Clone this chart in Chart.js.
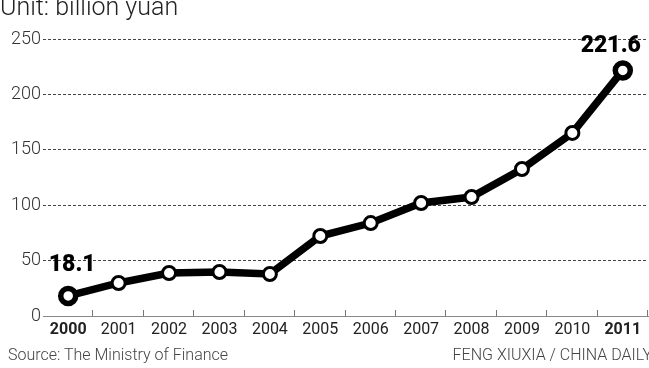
<!DOCTYPE html>
<html>
<head>
<meta charset="utf-8">
<script src="https://cdn.jsdelivr.net/npm/chart.js@4/dist/chart.umd.min.js"></script>
<style>
  html, body { margin: 0; padding: 0; background: #fff; }
  #wrap { position: relative; width: 649px; height: 368px; overflow: hidden; font-family: Roboto, sans-serif; }
  #chart { position: absolute; left: 0; top: 0; }
  .txt { position: absolute; white-space: nowrap; color: #333; font-weight: 300; }
  #unit { left: 0; top: -6.5px; font-size: 25px; line-height: 26px; color: #222; }
  #source { left: 8px; top: 344.5px; font-size: 16px; line-height: 20px; color: #444; }
  #credit { right: -3px; top: 344.5px; font-size: 16px; line-height: 20px; color: #444; }
</style>
</head>
<body>
<div id="wrap">
  <canvas id="chart" width="649" height="368"></canvas>
  <div class="txt" id="unit">Unit: billion yuan</div>
  <div class="txt" id="source">Source: The Ministry of Finance</div>
  <div class="txt" id="credit">FENG XIUXIA / CHINA DAILY</div>
</div>
<script>
const years = ['2000', '2001', '2002', '2003', '2004', '2005', '2006', '2007', '2008', '2009', '2010', '2011'];
const revenue = [18.1, 29.8, 38.8, 39.7, 37.9, 72.2, 83.9, 102.0, 107.4, 132.7, 165.2, 221.6];
const yTicks = [0, 50, 100, 150, 200, 250];

const last = years.length - 1;
const isEnd = (i) => i === 0 || i === last;

// small upward tick marks between the years
const betweenTicks = {
  id: 'betweenTicks',
  afterDraw(chart) {
    const x = chart.scales.x;
    const ctx = chart.ctx;
    const bottom = chart.chartArea.bottom;
    ctx.save();
    ctx.strokeStyle = '#777';
    ctx.lineWidth = 1;
    for (let i = 1; i <= years.length; i++) {
      const px = Math.round(x.getPixelForValue(i - 0.5)) - 0.5;
      ctx.beginPath();
      ctx.moveTo(px, bottom);
      ctx.lineTo(px, bottom - 6);
      ctx.stroke();
    }
    ctx.restore();
  }
};

// first and last value labels
const endLabels = {
  id: 'endLabels',
  afterDatasetsDraw(chart) {
    const pts = chart.getDatasetMeta(0).data;
    const ctx = chart.ctx;
    ctx.save();
    ctx.fillStyle = '#000';
    ctx.font = '900 23px Roboto';
    ctx.textBaseline = 'alphabetic';
    ctx.textAlign = 'center';
    ctx.fillText(revenue[0].toFixed(1), pts[0].x + 4, pts[0].y - 25);
    ctx.fillText(revenue[last].toFixed(1), pts[last].x - 12, pts[last].y - 18);
    ctx.restore();
  }
};

new Chart(document.getElementById('chart'), {
  type: 'line',
  data: {
    labels: years,
    datasets: [{
      data: revenue,
      borderColor: '#000',
      borderWidth: 7.5,
      tension: 0,
      pointBackgroundColor: '#fff',
      pointBorderColor: '#000',
      pointRadius: (c) => isEnd(c.dataIndex) ? 7.5 : 6.5,
      pointBorderWidth: (c) => isEnd(c.dataIndex) ? 5.5 : 3,
      clip: false
    }]
  },
  options: {
    responsive: false,
    animation: false,
    layout: { autoPadding: false, padding: { top: 39, right: 1, left: 0, bottom: 0 } },
    plugins: { legend: { display: false }, tooltip: { enabled: false } },
    scales: {
      x: {
        offset: true,
        grid: { display: false, drawTicks: false },
        border: { display: true, color: '#888', width: 1 },
        ticks: {
          padding: 4,
          color: '#222',
          maxRotation: 0,
          autoSkip: false,
          font: (c) => isEnd(c.index)
            ? { family: 'Roboto', size: 16, weight: 'bold' }
            : { family: 'Roboto', size: 16, weight: 'normal' }
        },
        afterFit: (s) => { s.height = 52; }
      },
      y: {
        min: 0,
        max: 250,
        afterBuildTicks: (s) => { s.ticks = yTicks.map((v) => ({ value: v })); },
        grid: {
          drawTicks: false,
          color: (c) => c.tick.value === 0 ? 'rgba(0,0,0,0)' : '#444',
          lineWidth: 1
        },
        border: { display: false, dash: [3, 2] },
        ticks: {
          padding: 2,
          color: '#333',
          font: { family: 'Roboto', size: 18, weight: '300' }
        },
        afterFit: (s) => { s.width = 43; }
      }
    }
  },
  plugins: [betweenTicks, endLabels]
});
</script>
</body>
</html>
